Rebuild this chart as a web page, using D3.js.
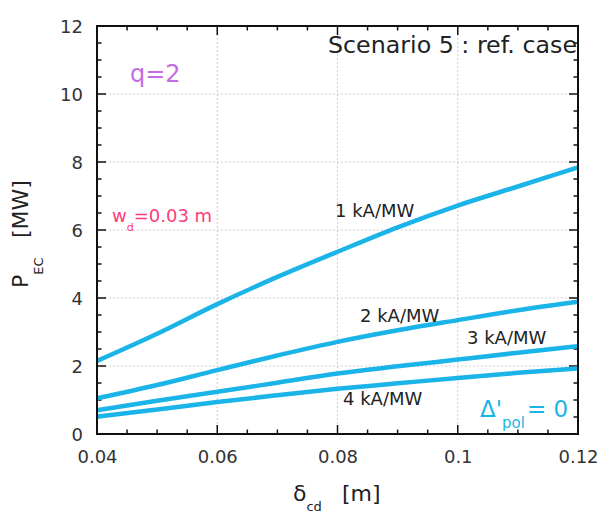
<!DOCTYPE html>
<html>
<head>
<meta charset="utf-8">
<script src="https://cdn.jsdelivr.net/npm/d3@7"></script>
<style>
  html, body { margin: 0; padding: 0; background: #fff; }
  svg { display: block; }
  text { font-family: "DejaVu Sans", sans-serif; }
</style>
</head>
<body>
<svg id="chart" width="602" height="513"></svg>
<script>
// Electron-cyclotron power versus current-drive width, one curve per efficiency
const deltaCd = [0.04, 0.05, 0.06, 0.07, 0.08, 0.09, 0.10, 0.11, 0.12];
const eff1 = [2.15, 2.95, 3.82, 4.62, 5.36, 6.08, 6.72, 7.28, 7.84];
const eff2 = [1.05, 1.44, 1.88, 2.31, 2.71, 3.05, 3.35, 3.64, 3.89];
const eff3 = [0.70, 0.98, 1.24, 1.51, 1.78, 1.99, 2.19, 2.39, 2.58];
const eff4 = [0.51, 0.72, 0.94, 1.14, 1.33, 1.49, 1.65, 1.80, 1.93];
const seriesNames = ["1 kA/MW", "2 kA/MW", "3 kA/MW", "4 kA/MW"];
const xTicks = [0.04, 0.06, 0.08, 0.1, 0.12];
const xTickLabels = ["0.04", "0.06", "0.08", "0.1", "0.12"];
const yTicks = [0, 2, 4, 6, 8, 10, 12];

const svg = d3.select("#chart");
const pLeft = 97, pRight = 578, pTop = 26, pBottom = 434;

const x = d3.scaleLinear().domain([0.04, 0.12]).range([pLeft, pRight]);
const y = d3.scaleLinear().domain([0, 12]).range([pBottom, pTop]);

// dotted grid at the major ticks
const grid = svg.append("g");
xTicks.slice(1, -1).forEach(v => {
  grid.append("line").attr("x1", x(v)).attr("x2", x(v)).attr("y1", pTop).attr("y2", pBottom)
    .attr("stroke", "#cfcfcf").attr("stroke-width", 1).attr("stroke-dasharray", "2,2");
});
yTicks.slice(1, -1).forEach(v => {
  grid.append("line").attr("x1", pLeft).attr("x2", pRight).attr("y1", y(v)).attr("y2", y(v))
    .attr("stroke", "#cfcfcf").attr("stroke-width", 1).attr("stroke-dasharray", "2,2");
});

// inward ticks on all four sides
const xMinor = d3.range(0.04, 0.12001, 0.005);
const yMinor = d3.range(0, 12.001, 0.5);
const ticksG = svg.append("g").attr("stroke", "#111").attr("stroke-width", 1.5);
const isMajorX = v => xTicks.some(t => Math.abs(t - v) < 1e-6);
const isMajorY = v => yTicks.some(t => Math.abs(t - v) < 1e-6);
xMinor.forEach(v => {
  const len = isMajorX(v) ? 9 : 4.5;
  ticksG.append("line").attr("x1", x(v)).attr("x2", x(v)).attr("y1", pBottom).attr("y2", pBottom - len);
  ticksG.append("line").attr("x1", x(v)).attr("x2", x(v)).attr("y1", pTop).attr("y2", pTop + len);
});
yMinor.forEach(v => {
  const len = isMajorY(v) ? 9 : 4.5;
  ticksG.append("line").attr("x1", pLeft).attr("x2", pLeft + len).attr("y1", y(v)).attr("y2", y(v));
  ticksG.append("line").attr("x1", pRight).attr("x2", pRight - len).attr("y1", y(v)).attr("y2", y(v));
});

// curves
const line = d3.line().x((d, i) => x(deltaCd[i])).y(d => y(d)).curve(d3.curveMonotoneX);
[eff1, eff2, eff3, eff4].forEach(s => {
  svg.append("path").attr("d", line(s)).attr("fill", "none")
    .attr("stroke", "#1bb4e8").attr("stroke-width", 4.5).attr("stroke-linecap", "butt");
});

// frame
svg.append("rect").attr("x", pLeft).attr("y", pTop).attr("width", pRight - pLeft).attr("height", pBottom - pTop)
  .attr("fill", "none").attr("stroke", "#111").attr("stroke-width", 2);

// tick labels
const xAxis = d3.axisBottom(x).tickValues(xTicks).tickFormat((d, i) => xTickLabels[i]).tickSize(0).tickPadding(0);
const xg = svg.append("g").attr("transform", `translate(0,${pBottom})`).call(xAxis);
xg.select(".domain").remove();
xg.selectAll("text").attr("font-size", 18).attr("fill", "#333").attr("dy", null).attr("y", 29)
  .attr("font-family", "DejaVu Sans");

const yAxis = d3.axisLeft(y).tickValues(yTicks).tickFormat(d3.format("d")).tickSize(0).tickPadding(14);
const yg = svg.append("g").attr("transform", `translate(${pLeft},0)`).call(yAxis);
yg.select(".domain").remove();
yg.selectAll("text").attr("font-size", 18).attr("fill", "#333").attr("dy", "0.35em")
  .attr("font-family", "DejaVu Sans");

// axis titles
const xt = svg.append("text").attr("x", 293).attr("y", 501).attr("font-size", 22).attr("fill", "#222");
xt.append("tspan").text("δ");
xt.append("tspan").attr("font-size", 13).attr("dy", 10).text("cd");
xt.append("tspan").attr("x", 342).attr("dy", -10).text("[m]");

const yt = svg.append("text").attr("transform", "translate(28,288) rotate(-90)")
  .attr("font-size", 22).attr("fill", "#222");
yt.append("tspan").text("P");
yt.append("tspan").attr("font-size", 13).attr("dy", 15).text("EC");
yt.append("tspan").attr("x", 50).attr("dy", -15).text("[MW]");

// annotations
svg.append("text").attr("x", 328).attr("y", 53).attr("font-size", 23).attr("fill", "#222")
  .attr("textLength", 249).attr("lengthAdjust", "spacingAndGlyphs").text("Scenario 5 : ref. case");

svg.append("text").attr("x", 130).attr("y", 82).attr("font-size", 24).attr("fill", "#c56ce4").text("q=2");

const wd = svg.append("text").attr("x", 112).attr("y", 222).attr("font-size", 18).attr("fill", "#ff3a78");
wd.append("tspan").text("w");
wd.append("tspan").attr("font-size", 11).attr("dy", 9).text("d");
wd.append("tspan").attr("dy", -9).text("=0.03 m");

const labelPos = [[335, 217], [360, 322], [467, 344], [343, 405]];
seriesNames.forEach((n, i) => {
  svg.append("text").attr("x", labelPos[i][0]).attr("y", labelPos[i][1])
    .attr("font-size", 18).attr("fill", "#222").text(n);
});

const dp = svg.append("text").attr("x", 480).attr("y", 417).attr("font-size", 23).attr("fill", "#1bb4e8");
dp.append("tspan").text("Δ'");
dp.append("tspan").attr("font-size", 15).attr("dy", 11).text("pol");
dp.append("tspan").attr("x", 527).attr("dy", -11).text("= 0");
</script>
</body>
</html>
